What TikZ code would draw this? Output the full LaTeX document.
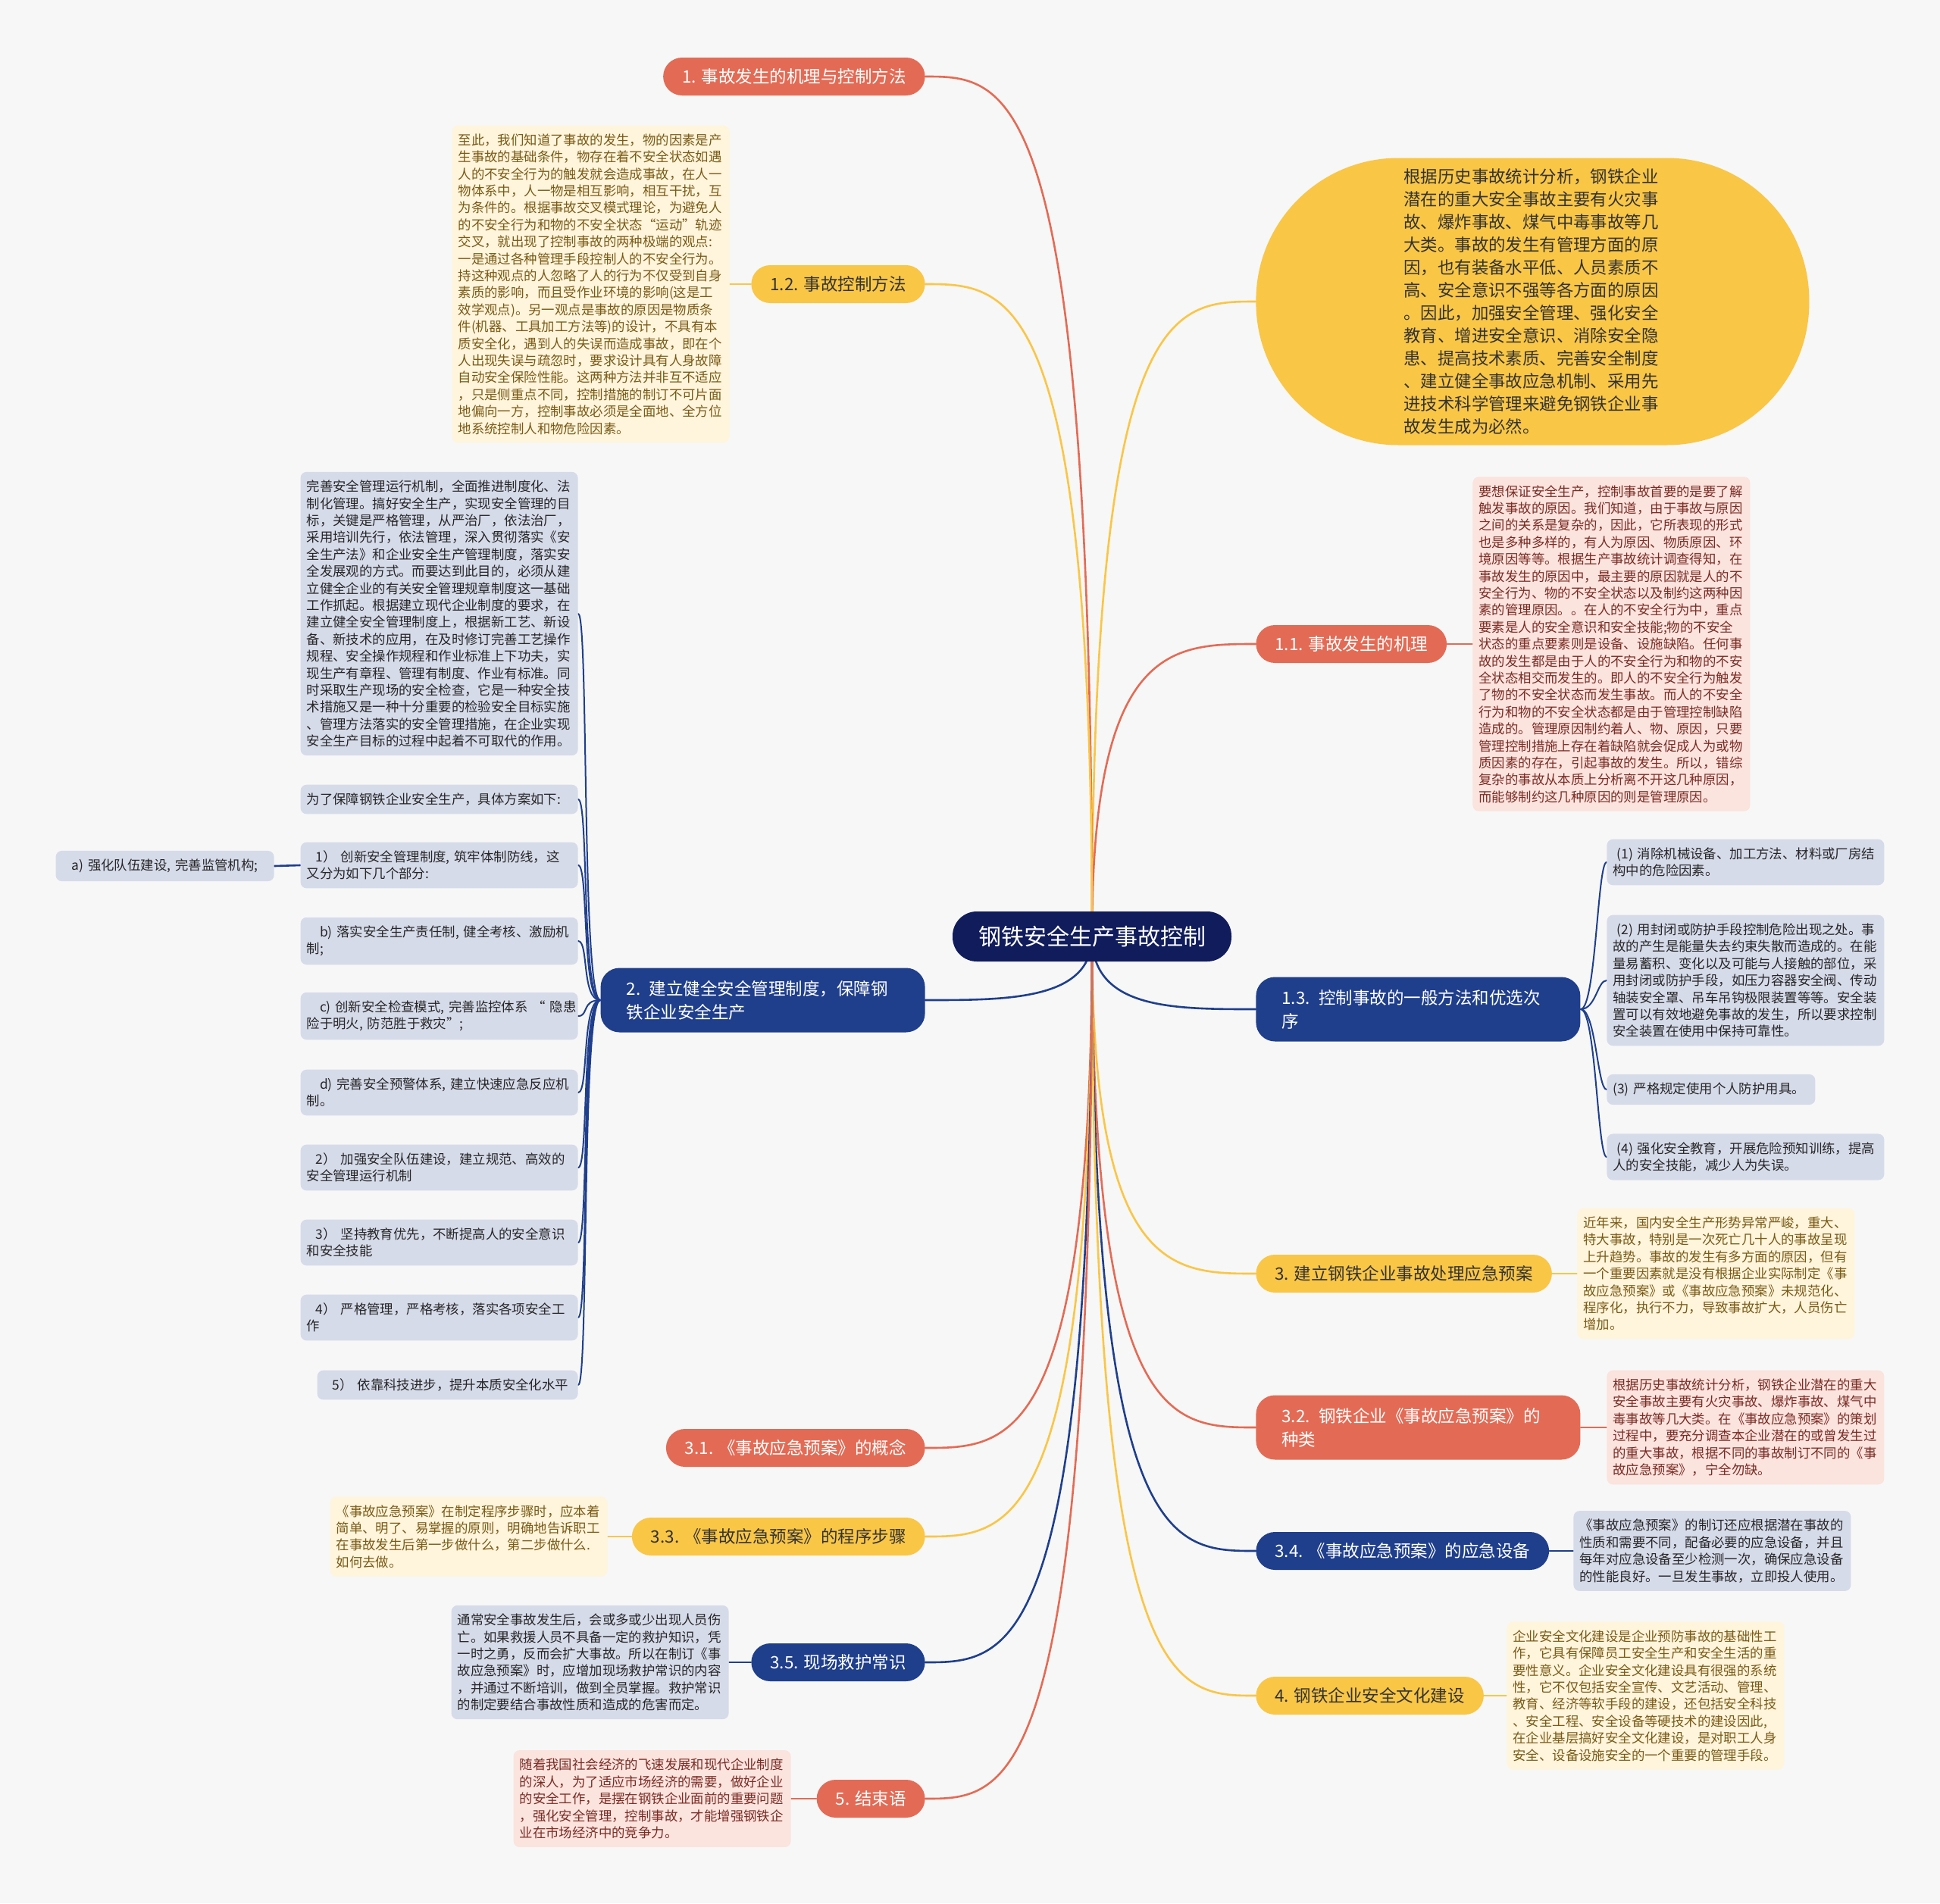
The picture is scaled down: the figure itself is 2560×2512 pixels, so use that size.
\documentclass[tikz,border=0pt]{standalone}
\usepackage{fontspec}
\setmainfont{Noto Sans CJK SC}
\usetikzlibrary{calc,backgrounds}
\definecolor{cNen}{HTML}{F7F7F7}
\definecolor{cGoc}{HTML}{101C5B}
\definecolor{cXanh}{HTML}{1F3F8C}
\definecolor{cDo}{HTML}{E36B55}
\definecolor{cVang}{HTML}{F9C646}
\definecolor{cXanhNen}{HTML}{D6DBEA}
\definecolor{cVangNen}{HTML}{FEF5DC}
\definecolor{cHongNen}{HTML}{FBE3DE}
\definecolor{cChuXam}{HTML}{262626}
\definecolor{cChuVang}{HTML}{7A5A16}
\definecolor{cChuHong}{HTML}{7A2C24}
\definecolor{cChuToi}{HTML}{333333}
\def\Lgoc{钢铁安全生产事故控制}
\def\Lmot{1. 事故发生的机理与控制方法}
\def\Lmothai{1.2. 事故控制方法}
\def\Lmotmot{1.1. 事故发生的机理}
\def\Lmotba{1.3. 控制事故的一般方法和优选次\\序}
\def\Lhai{2. 建立健全安全管理制度，保障钢\\铁企业安全生产}
\def\Lba{3. 建立钢铁企业事故处理应急预案}
\def\Lbamot{3.1. 《事故应急预案》的概念}
\def\Lbahai{3.2. 钢铁企业《事故应急预案》的\\种类}
\def\Lbaba{3.3. 《事故应急预案》的程序步骤}
\def\Lbabon{3.4. 《事故应急预案》的应急设备}
\def\Lbanam{3.5. 现场救护常识}
\def\Lbon{4. 钢铁企业安全文化建设}
\def\Lnam{5. 结束语}
\def\Gelip{根据历史事故统计分析，钢铁企业\\潜在的重大安全事故主要有火灾事\\故、爆炸事故、煤气中毒事故等几\\大类。事故的发生有管理方面的原\\因，也有装备水平低、人员素质不\\高、安全意识不强等各方面的原因\\。因此，加强安全管理、强化安全\\教育、增进安全意识、消除安全隐\\患、提高技术素质、完善安全制度\\、建立健全事故应急机制、采用先\\进技术科学管理来避免钢铁企业事\\故发生成为必然。}
\def\Gmothai{至此，我们知道了事故的发生，物的因素是产\\生事故的基础条件，物存在着不安全状态如遇\\人的不安全行为的触发就会造成事故，在人一\\物体系中，人一物是相互影响，相互干扰，互\\为条件的。根据事故交叉模式理论，为避免人\\的不安全行为和物的不安全状态“运动”轨迹\\交叉，就出现了控制事故的两种极端的观点:\\一是通过各种管理手段控制人的不安全行为。\\持这种观点的人忽略了人的行为不仅受到自身\\素质的影响，而且受作业环境的影响(这是工\\效学观点)。另一观点是事故的原因是物质条\\件(机器、工具加工方法等)的设计，不具有本\\质安全化，遇到人的失误而造成事故，即在个\\人出现失误与疏忽时，要求设计具有人身故障\\自动安全保险性能。这两种方法并非互不适应\\，只是侧重点不同，控制措施的制订不可片面\\地偏向一方，控制事故必须是全面地、全方位\\地系统控制人和物危险因素。}
\def\Gmotmot{要想保证安全生产，控制事故首要的是要了解\\触发事故的原因。我们知道，由于事故与原因\\之间的关系是复杂的，因此，它所表现的形式\\也是多种多样的，有人为原因、物质原因、环\\境原因等等。根据生产事故统计调查得知，在\\事故发生的原因中，最主要的原因就是人的不\\安全行为、物的不安全状态以及制约这两种因\\素的管理原因。。在人的不安全行为中，重点\\要素是人的安全意识和安全技能;物的不安全\\状态的重点要素则是设备、设施缺陷。任何事\\故的发生都是由于人的不安全行为和物的不安\\全状态相交而发生的。即人的不安全行为触发\\了物的不安全状态而发生事故。而人的不安全\\行为和物的不安全状态都是由于管理控制缺陷\\造成的。管理原因制约着人、物、原因，只要\\管理控制措施上存在着缺陷就会促成人为或物\\质因素的存在，引起事故的发生。所以，错综\\复杂的事故从本质上分析离不开这几种原因，\\而能够制约这几种原因的则是管理原因。}
\def\Gquanly{完善安全管理运行机制，全面推进制度化、法\\制化管理。搞好安全生产，实现安全管理的目\\标，关键是严格管理，从严治厂，依法治厂，\\采用培训先行，依法管理，深入贯彻落实《安\\全生产法》和企业安全生产管理制度，落实安\\全发展观的方式。而要达到此目的，必须从建\\立健全企业的有关安全管理规章制度这一基础\\工作抓起。根据建立现代企业制度的要求，在\\建立健全安全管理制度上，根据新工艺、新设\\备、新技术的应用，在及时修订完善工艺操作\\规程、安全操作规程和作业标准上下功夫，实\\现生产有章程、管理有制度、作业有标准。同\\时采取生产现场的安全检查，它是一种安全技\\术措施又是一种十分重要的检验安全目标实施\\、管理方法落实的安全管理措施，在企业实现\\安全生产目标的过程中起着不可取代的作用。}
\def\Gba{近年来，国内安全生产形势异常严峻，重大、\\特大事故，特别是一次死亡几十人的事故呈现\\上升趋势。事故的发生有多方面的原因，但有\\一个重要因素就是没有根据企业实际制定《事\\故应急预案》或《事故应急预案》未规范化、\\程序化，执行不力，导致事故扩大，人员伤亡\\增加。}
\def\Gbahai{根据历史事故统计分析，钢铁企业潜在的重大\\安全事故主要有火灾事故、爆炸事故、煤气中\\毒事故等几大类。在《事故应急预案》的策划\\过程中，要充分调查本企业潜在的或曾发生过\\的重大事故，根据不同的事故制订不同的《事\\故应急预案》，宁全勿缺。}
\def\Gbabon{《事故应急预案》的制订还应根据潜在事故的\\性质和需要不同，配备必要的应急设备，并且\\每年对应急设备至少检测一次，确保应急设备\\的性能良好。一旦发生事故，立即投人使用。}
\def\Gbon{企业安全文化建设是企业预防事故的基础性工\\作，它具有保障员工安全生产和安全生活的重\\要性意义。企业安全文化建设具有很强的系统\\性，它不仅包括安全宣传、文艺活动、管理、\\教育、经济等软手段的建设，还包括安全科技\\、安全工程、安全设备等硬技术的建设因此,\\在企业基层搞好安全文化建设，是对职工人身\\安全、设备设施安全的一个重要的管理手段。}
\def\Gbaba{《事故应急预案》在制定程序步骤时，应本着\\简单、明了、易掌握的原则，明确地告诉职工\\在事故发生后第一步做什么，第二步做什么.\\如何去做。}
\def\Gbanam{通常安全事故发生后，会或多或少出现人员伤\\亡。如果救援人员不具备一定的救护知识，凭\\一时之勇，反而会扩大事故。所以在制订《事\\故应急预案》时，应增加现场救护常识的内容\\，并通过不断培训，做到全员掌握。救护常识\\的制定要结合事故性质和造成的危害而定。}
\def\Gnam{随着我国社会经济的飞速发展和现代企业制度\\的深人，为了适应市场经济的需要，做好企业\\的安全工作，是摆在钢铁企业面前的重要问题\\，强化安全管理，控制事故，才能增强钢铁企\\业在市场经济中的竞争力。}
\begin{document}
\begin{tikzpicture}[x=0.5pt, y=-0.5pt,
  hopgoc/.style={
    fill=cGoc, text=white, rounded corners=16pt, minimum width=184pt,
    minimum height=33pt, font=\fontsize{15pt}{18pt}\selectfont
  },
  nhanh/.style={
    rounded corners=12.5pt, minimum height=25pt, inner xsep=12.5pt,
    inner ysep=3pt, font=\fontsize{11.25pt}{15.5pt}\selectfont
  },
  haidong/.style={text width=180pt, align=left, inner xsep=17pt, minimum height=42.5pt},
  hopdo/.style={nhanh, fill=cDo, text=white},
  hopvang/.style={nhanh, fill=cVang, text=cChuToi},
  hopxanh/.style={nhanh, fill=cXanh, text=white},
  hopelip/.style={
    fill=cVang, text=cChuToi, rounded corners=94pt, minimum width=365pt,
    minimum height=189.5pt, text width=170pt, align=left,
    font=\fontsize{11.2pt}{15pt}\selectfont
  },
  ghichu/.style={
    rounded corners=4pt, text width=175pt, align=left, inner xsep=4pt,
    inner ysep=5.5pt, font=\fontsize{8.7pt}{11.2pt}\selectfont
  },
  ghivang/.style={ghichu, fill=cVangNen, text=cChuVang},
  ghihong/.style={ghichu, fill=cHongNen, text=cChuHong},
  ghixanh/.style={ghichu, fill=cXanhNen, text=cChuXam},
  noi/.style={line width=1.3pt, line cap=round},
  noinho/.style={line width=1pt, line cap=round}
]
\useasboundingbox (0,0) rectangle (2560,2512);

% ── Nut goc o giua ──
\node[hopgoc] (goc) at (1441,1236) {\Lgoc};

% ── Nhanh ben phai: mep trai dat o x = 1657 ──
\node[hopelip, anchor=west] (elip) at (1657,398) {\Gelip};
\node[hopdo, anchor=west] (n11) at (1657,850) {\Lmotmot};
\node[hopxanh, haidong, anchor=west] (n13) at (1657,1332) {\Lmotba};
\node[hopvang, anchor=west] (n3) at (1657,1681) {\Lba};
\node[hopdo, haidong, anchor=west] (n32) at (1657,1884) {\Lbahai};
\node[hopxanh, anchor=west] (n34) at (1657,2047) {\Lbabon};
\node[hopvang, anchor=west] (n4) at (1657,2238) {\Lbon};

% ── Nhanh ben trai: mep phai dat o x = 1221 ──
\node[hopdo, anchor=east] (n1) at (1221,101) {\Lmot};
\node[hopvang, anchor=east] (n12) at (1221,375) {\Lmothai};
\node[hopxanh, haidong, anchor=east] (n2) at (1221,1320) {\Lhai};
\node[hopdo, anchor=east] (n31) at (1221,1911) {\Lbamot};
\node[hopvang, anchor=east] (n33) at (1221,2028) {\Lbaba};
\node[hopxanh, anchor=east] (n35) at (1221,2194) {\Lbanam};
\node[hopdo, anchor=east] (n5) at (1221,2374) {\Lnam};

% ── Ghi chu canh nhanh ──
\node[ghivang, anchor=east] (g12) at (963,375) {\Gmothai};
\node[ghihong, anchor=west] (g11) at (1943,850) {\Gmotmot};
\node[ghivang, anchor=west] (g3) at (2081,1681) {\Gba};
\node[ghihong, anchor=west] (g32) at (2120,1884) {\Gbahai};
\node[ghixanh, anchor=west] (g34) at (2076,2047) {\Gbabon};
\node[ghivang, anchor=west] (g4) at (1988,2238) {\Gbon};
\node[ghivang, anchor=east] (g33) at (802,2028) {\Gbaba};
\node[ghixanh, anchor=east] (g35) at (962,2194) {\Gbanam};
\node[ghihong, anchor=east] (g5) at (1044,2374) {\Gnam};

% ── Cac muc con cua nhanh 2 ──
\node[ghixanh, anchor=east] (c0) at (763,810) {\Gquanly};
\node[ghixanh, anchor=east] (c1) at (763,1055) {为了保障钢铁企业安全生产，具体方案如下:};
\node[ghixanh, anchor=east] (c2) at (763,1142) {\hspace*{0.7em}1）\ 创新安全管理制度, 筑牢体制防线，这\\又分为如下几个部分:};
\node[ghixanh, anchor=east] (c3) at (763,1242) {\hspace*{1em}b) 落实安全生产责任制, 健全考核、激励机\\制;};
\node[ghixanh, anchor=east] (c4) at (763,1341) {\mbox{\hspace*{1em}c) 创新安全检查模式, 完善监控体系~“~隐患}\\险于明火, 防范胜于救灾”;};
\node[ghixanh, anchor=east] (c5) at (763,1442) {\hspace*{1em}d) 完善安全预警体系, 建立快速应急反应机\\制。};
\node[ghixanh, anchor=east] (c6) at (763,1541) {\hspace*{0.7em}2）\ 加强安全队伍建设，建立规范、高效的\\安全管理运行机制};
\node[ghixanh, anchor=east] (c7) at (763,1640) {\hspace*{0.7em}3）\ 坚持教育优先，不断提高人的安全意识\\和安全技能};
\node[ghixanh, anchor=east] (c8) at (763,1739) {\hspace*{0.7em}4）\ 严格管理，严格考核，落实各项安全工\\作};
\node[ghixanh, anchor=east, text width=164pt] (c9) at (763,1828) {\hspace*{0.7em}5）\ 依靠科技进步，提升本质安全化水平};
\node[ghixanh, anchor=east, text width=136pt, align=center] (ca) at (362,1143) {a) 强化队伍建设, 完善监管机构;};

% ── Cac muc con cua nhanh 1.3 ──
\node[ghixanh, anchor=west] (d1) at (2120,1138) {\hspace*{0.3em}(1) 消除机械设备、加工方法、材料或厂房结\\构中的危险因素。};
\node[ghixanh, anchor=west] (d2) at (2120,1294) {\hspace*{0.3em}(2) 用封闭或防护手段控制危险出现之处。事\\故的产生是能量失去约束失散而造成的。在能\\量易蓄积、变化以及可能与人接触的部位，采\\用封闭或防护手段，如压力容器安全阀、传动\\轴装安全罩、吊车吊钩极限装置等等。安全装\\置可以有效地避免事故的发生，所以要求控制\\安全装置在使用中保持可靠性。};
\node[ghixanh, anchor=west, text width=129.5pt] (d3) at (2120,1438) {(3) 严格规定使用个人防护用具。};
\node[ghixanh, anchor=west] (d4) at (2120,1527) {\hspace*{0.3em}(4) 强化安全教育，开展危险预知训练，提高\\人的安全技能，减少人为失误。};

% ── Duong noi ve o lop nen, nam duoi cac hop ──
\begin{scope}[on background layer]
  \fill[cNen] (0,0) rectangle (2560,2512);
  % tu goc ra hai phia: di thang dung roi cong vao mep hop
  \foreach \dich/\mau in {elip/cVang, n11/cDo, n13/cXanh, n3/cVang, n32/cDo, n34/cXanh, n4/cVang}
    \draw[noi, draw=\mau] (goc.center) .. controls (goc.center |- \dich.west) and +(-110,0) .. (\dich.west);
  \foreach \dich/\mau in {n1/cDo, n12/cVang, n2/cXanh, n31/cDo, n33/cVang, n35/cXanh, n5/cDo}
    \draw[noi, draw=\mau] (goc.center) .. controls (goc.center |- \dich.east) and +(110,0) .. (\dich.east);
  % nhanh -> ghi chu
  \foreach \tu/\den/\mau in {n11/g11/cDo, n3/g3/cVang, n32/g32/cDo, n34/g34/cXanh, n4/g4/cVang}
    \draw[noinho, draw=\mau] (\tu.east) -- (\den.west);
  \foreach \tu/\den/\mau in {n12/g12/cVang, n33/g33/cVang, n35/g35/cXanh, n5/g5/cDo}
    \draw[noinho, draw=\mau] (\tu.west) -- (\den.east);
  % nhanh 2 -> cac muc con
  \foreach \i in {0,...,9}
    \draw[noinho, cXanh] (n2.west) .. controls +(-25,0) and +(14,0) .. (c\i.east);
  \draw[noi, cXanh] (c2.west) -- (ca.east);
  % nhanh 1.3 -> cac muc con
  \foreach \i in {1,...,4}
    \draw[noinho, cXanh] (n13.east) .. controls +(20,0) and +(-12,0) .. (d\i.west);
\end{scope}

\end{tikzpicture}
\end{document}
